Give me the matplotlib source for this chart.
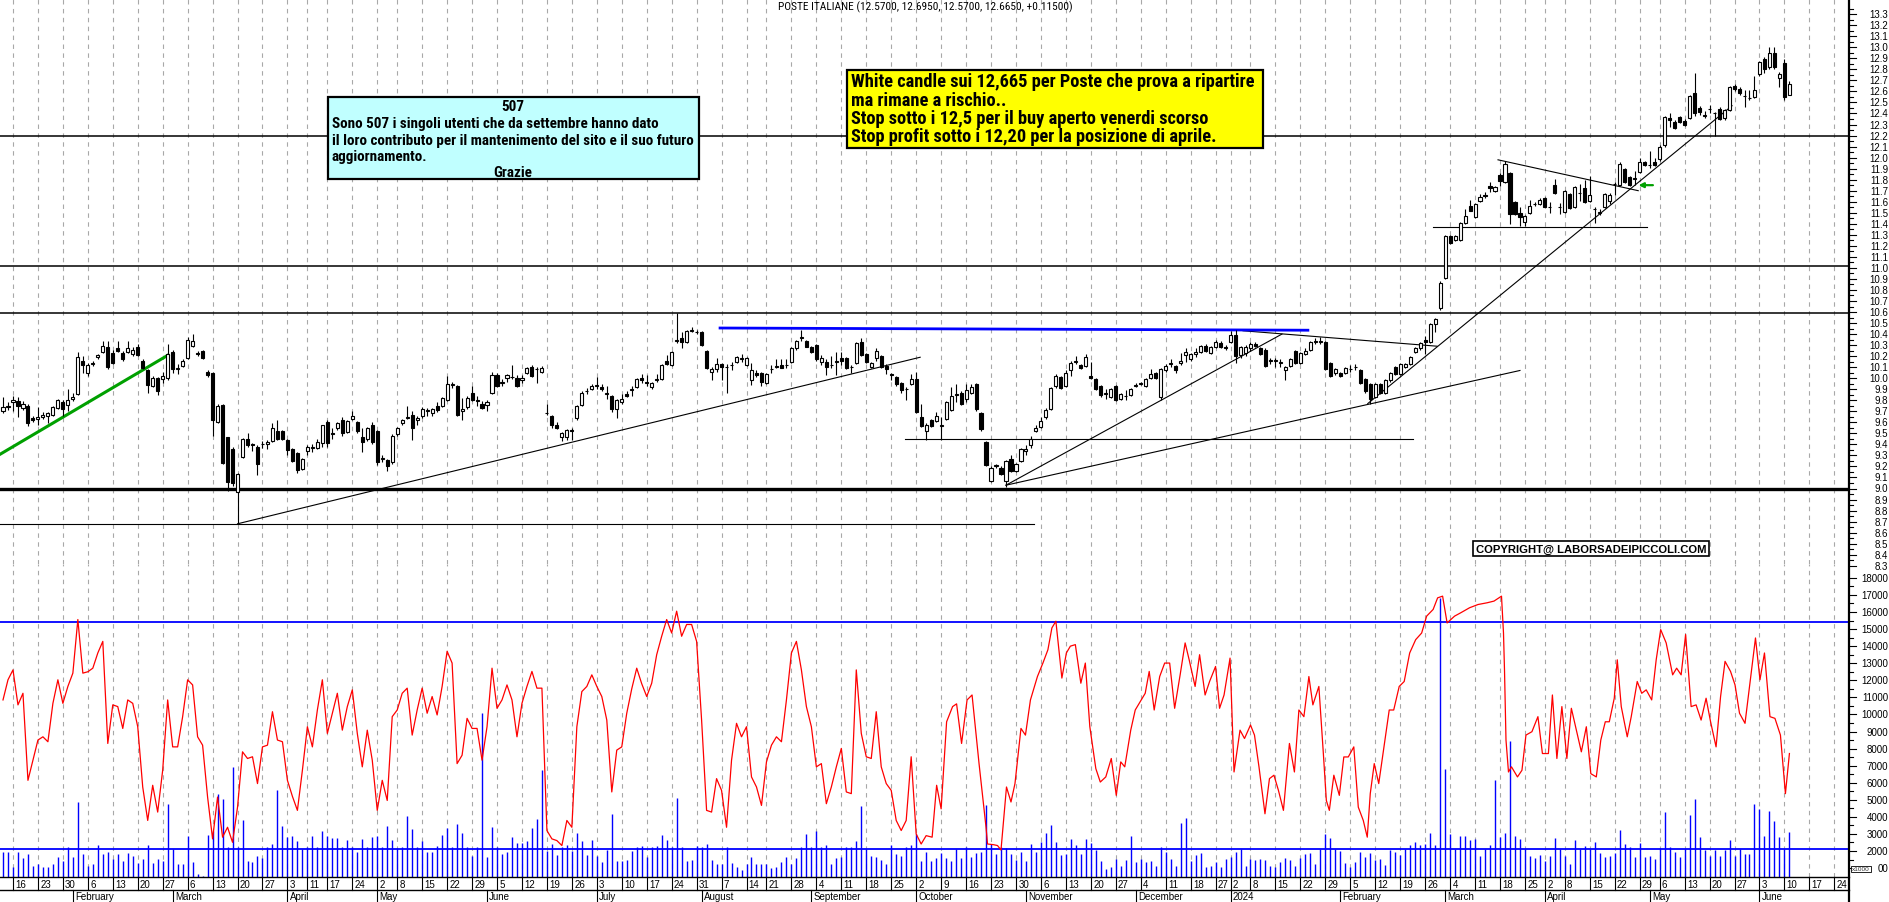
import numpy as np
import pandas as pd
import matplotlib
matplotlib.use("Agg")
import matplotlib.pyplot as plt
import matplotlib.transforms as mtrans
from matplotlib.collections import LineCollection
from matplotlib.patches import Rectangle
from matplotlib import font_manager as fm

# ---------------- data ----------------
holidays = ["2023-04-07", "2023-04-10", "2023-05-01", "2023-08-15", "2023-12-25",
            "2023-12-26", "2024-01-01", "2024-03-29", "2024-04-01", "2024-05-01"]
first_day = "2023-01-12"
axis_end_day = "2024-06-28"

opens = [9.70,9.74,9.78,9.79,9.73,9.75,9.64,9.63,9.65,9.66,9.67,9.73,9.78,9.76,9.81,9.86,10.16,10.05,10.13,10.19,
10.24,10.28,10.23,10.27,10.23,10.24,10.22,10.28,10.16,10.07,9.93,10.00,9.99,10.00,10.24,10.08,10.11,10.18,10.29,10.23,
10.25,10.06,10.05,9.60,9.76,9.47,9.36,8.97,9.29,9.45,9.40,9.38,9.40,9.40,9.43,9.52,9.52,9.44,9.36,9.32,
9.18,9.34,9.37,9.37,9.41,9.60,9.50,9.55,9.62,9.51,9.63,9.60,9.47,9.45,9.58,9.52,9.27,9.26,9.24,9.49,
9.59,9.64,9.67,9.62,9.66,9.70,9.68,9.75,9.75,9.80,9.94,9.93,9.70,9.74,9.87,9.80,9.77,9.76,9.87,10.03,
9.96,10.00,10.01,10.00,9.98,10.05,10.10,10.08,10.06,9.68,9.66,9.58,9.47,9.47,9.53,9.64,9.76,9.88,9.90,9.93,
9.92,9.86,9.84,9.72,9.78,9.86,9.89,9.92,10.00,9.97,9.92,9.98,9.99,10.16,10.12,10.34,10.36,10.33,10.43,10.42,
10.42,10.25,10.06,10.08,10.13,10.10,10.12,10.15,10.17,10.12,9.98,10.05,10.05,9.96,10.08,10.10,10.12,10.12,10.15,10.27,
10.36,10.34,10.28,10.30,10.15,10.15,10.12,10.15,10.18,10.18,10.10,10.14,10.33,10.22,10.10,10.18,10.20,10.11,10.04,10.01,
9.96,9.90,9.95,9.99,9.65,9.52,9.62,9.61,9.57,9.63,9.71,9.85,9.87,9.81,9.87,9.95,9.68,9.42,9.07,9.20,
9.19,9.07,9.27,9.16,9.25,9.34,9.39,9.52,9.56,9.65,9.72,9.93,10.01,9.93,10.07,10.15,10.12,10.11,10.02,9.99,
9.93,9.86,9.83,9.93,9.81,9.84,9.85,9.93,9.95,9.93,10.00,10.05,9.83,10.07,10.13,10.11,10.14,10.21,10.17,10.22,
10.24,10.29,10.23,10.28,10.32,10.28,10.33,10.39,10.21,10.23,10.27,10.31,10.27,10.26,10.16,10.16,10.14,10.07,10.11,10.25,
10.14,10.22,10.26,10.33,10.33,10.33,10.14,10.05,10.05,10.05,10.08,10.10,10.07,9.99,9.95,9.83,9.95,9.87,9.98,10.10,
10.04,10.10,10.13,10.24,10.27,10.35,10.33,10.49,10.64,10.91,11.29,11.25,11.25,11.41,11.56,11.46,11.61,11.66,11.74,11.70,
11.84,11.78,11.86,11.60,11.50,11.42,11.50,11.58,11.58,11.63,11.55,11.75,11.55,11.51,11.67,11.55,11.68,11.72,11.61,11.53,
11.50,11.55,11.61,11.76,11.75,11.90,11.82,11.81,11.87,11.96,11.93,11.96,11.99,12.11,12.36,12.32,12.37,12.33,12.36,12.59,
12.45,12.38,12.44,12.40,12.44,12.36,12.43,12.65,12.62,12.56,12.54,12.55,12.76,12.89,12.82,12.95,12.72,12.86,12.57]

highs = [9.83,9.78,9.84,9.83,9.79,9.77,9.66,9.74,9.69,9.69,9.75,9.81,9.80,9.90,9.87,10.24,10.20,10.14,10.16,10.22,
10.34,10.34,10.26,10.34,10.25,10.34,10.28,10.31,10.17,10.08,10.02,10.01,10.06,10.31,10.26,10.13,10.17,10.37,10.40,10.25,
10.26,10.07,10.06,9.77,9.77,9.47,9.38,9.14,9.46,9.50,9.41,9.39,9.43,9.44,9.59,9.62,9.53,9.45,9.37,9.33,
9.28,9.39,9.40,9.45,9.58,9.62,9.55,9.60,9.65,9.62,9.70,9.61,9.55,9.56,9.60,9.53,9.30,9.27,9.49,9.56,
9.63,9.75,9.70,9.66,9.74,9.73,9.73,9.78,9.83,10.02,9.97,9.94,9.82,9.84,9.93,9.84,9.79,9.80,10.06,10.05,
9.99,10.04,10.12,10.03,10.03,10.10,10.12,10.10,10.11,9.77,9.67,9.60,9.51,9.54,9.55,9.76,9.88,9.91,9.95,10.01,
9.95,9.93,9.85,9.81,9.86,9.88,9.93,10.00,10.04,10.03,9.97,10.04,10.13,10.21,10.25,10.59,10.42,10.44,10.46,10.44,
10.43,10.26,10.10,10.18,10.14,10.13,10.15,10.20,10.22,10.19,10.14,10.07,10.06,10.05,10.12,10.17,10.17,10.17,10.28,10.35,
10.44,10.35,10.29,10.31,10.21,10.17,10.20,10.24,10.24,10.19,10.12,10.33,10.36,10.23,10.15,10.27,10.21,10.13,10.05,10.02,
9.97,9.92,10.04,10.06,9.77,9.59,9.63,9.69,9.65,9.79,9.92,9.95,9.88,9.95,9.95,9.96,9.69,9.43,9.20,9.22,
9.20,9.26,9.30,9.23,9.37,9.39,9.48,9.58,9.65,9.73,9.92,10.04,10.02,10.07,10.16,10.20,10.13,10.22,10.15,10.00,
9.94,9.90,9.91,9.94,9.87,9.89,9.91,9.96,9.97,10.00,10.08,10.06,10.09,10.13,10.17,10.12,10.23,10.27,10.23,10.27,
10.30,10.31,10.29,10.35,10.34,10.30,10.43,10.44,10.29,10.30,10.33,10.33,10.28,10.27,10.18,10.18,10.17,10.11,10.18,10.26,
10.24,10.27,10.34,10.36,10.37,10.34,10.15,10.09,10.06,10.10,10.12,10.13,10.08,10.00,9.96,9.96,9.96,9.99,10.06,10.11,
10.14,10.14,10.20,10.28,10.33,10.38,10.50,10.55,10.88,11.30,11.30,11.30,11.42,11.53,11.62,11.59,11.67,11.69,11.78,11.74,
11.86,11.97,11.87,11.61,11.55,11.48,11.62,11.60,11.63,11.64,11.60,11.81,11.59,11.71,11.68,11.74,11.76,11.80,11.83,11.55,
11.53,11.68,11.68,11.78,11.96,11.91,11.83,11.88,12.00,11.97,12.06,12.00,12.11,12.38,12.40,12.34,12.38,12.35,12.57,12.77,
12.47,12.42,12.48,12.41,12.46,12.44,12.65,12.67,12.64,12.61,12.61,12.74,12.88,12.91,13.00,13.00,12.78,12.89,12.695]

lows = [9.68,9.71,9.70,9.65,9.71,9.57,9.60,9.58,9.63,9.59,9.66,9.72,9.66,9.70,9.79,9.85,10.05,10.02,10.11,10.17,
10.23,10.08,10.13,10.24,10.16,10.23,10.20,10.20,10.08,9.87,9.92,9.85,9.96,9.98,10.05,10.04,10.10,10.17,10.28,10.20,
10.17,10.01,9.48,9.59,9.22,8.98,9.02,8.68,9.28,9.38,9.34,9.12,9.37,9.36,9.42,9.44,9.44,9.30,9.24,9.14,
9.17,9.30,9.33,9.36,9.38,9.38,9.45,9.53,9.48,9.50,9.62,9.50,9.33,9.43,9.40,9.21,9.24,9.16,9.22,9.48,
9.58,9.63,9.44,9.58,9.64,9.66,9.66,9.69,9.74,9.79,9.91,9.66,9.62,9.72,9.79,9.75,9.72,9.70,9.86,9.92,
9.93,9.97,9.99,9.92,9.96,10.04,10.01,9.96,10.05,9.67,9.55,9.54,9.43,9.44,9.44,9.62,9.75,9.86,9.89,9.90,
9.88,9.81,9.69,9.64,9.77,9.83,9.84,9.91,9.96,9.93,9.90,9.97,9.98,10.12,10.11,10.32,10.27,10.32,10.42,10.40,
10.29,10.08,9.98,10.06,9.98,9.87,10.07,10.14,10.15,10.11,9.94,10.01,9.93,9.95,10.05,10.09,10.09,10.09,10.14,10.26,
10.34,10.28,10.23,10.16,10.12,10.03,10.09,10.03,10.12,10.08,10.05,10.13,10.20,10.14,10.09,10.16,10.09,10.04,9.98,9.93,
9.87,9.80,9.94,9.68,9.56,9.44,9.56,9.60,9.44,9.62,9.70,9.78,9.76,9.78,9.86,9.70,9.52,9.20,9.06,9.19,
9.12,9.01,9.15,9.15,9.24,9.30,9.37,9.51,9.55,9.63,9.71,9.91,9.90,9.92,10.02,10.13,10.08,10.10,9.99,9.89,
9.83,9.81,9.82,9.79,9.80,9.80,9.84,9.92,9.94,9.92,9.99,9.99,9.80,10.06,10.10,10.05,10.12,10.15,10.16,10.19,
10.23,10.24,10.22,10.27,10.27,10.26,10.32,10.14,10.18,10.20,10.25,10.28,10.21,10.10,10.13,10.10,10.10,9.98,10.10,10.13,
10.13,10.21,10.25,10.31,10.31,10.07,10.01,10.03,10.01,10.04,10.06,10.07,9.95,9.87,9.77,9.82,9.86,9.86,9.97,10.03,
10.03,10.09,10.12,10.23,10.26,10.22,10.32,10.42,10.62,10.90,11.22,11.24,11.24,11.40,11.52,11.45,11.60,11.63,11.69,11.69,
11.74,11.77,11.40,11.48,11.38,11.38,11.49,11.56,11.57,11.55,11.50,11.67,11.49,11.50,11.53,11.54,11.61,11.59,11.60,11.41,
11.48,11.54,11.58,11.66,11.74,11.77,11.74,11.75,11.86,11.92,11.91,11.92,11.97,12.10,12.28,12.26,12.31,12.29,12.35,12.38,
12.39,12.36,12.40,12.20,12.34,12.34,12.42,12.60,12.57,12.46,12.52,12.54,12.74,12.77,12.80,12.80,12.64,12.52,12.57]

closes = [9.74,9.75,9.80,9.75,9.77,9.59,9.62,9.65,9.67,9.68,9.74,9.80,9.72,9.80,9.83,10.19,10.12,10.12,10.14,10.21,
10.29,10.10,10.14,10.25,10.17,10.27,10.26,10.21,10.09,9.94,10.00,9.88,10.02,10.22,10.08,10.09,10.16,10.35,10.34,10.22,
10.18,10.03,9.62,9.75,9.23,9.06,9.05,9.13,9.45,9.39,9.39,9.22,9.40,9.42,9.55,9.45,9.45,9.35,9.25,9.17,
9.27,9.38,9.37,9.42,9.58,9.41,9.49,9.59,9.50,9.61,9.66,9.52,9.42,9.55,9.42,9.24,9.27,9.20,9.48,9.55,
9.62,9.65,9.55,9.64,9.72,9.71,9.72,9.71,9.82,9.95,9.94,9.67,9.72,9.82,9.80,9.79,9.73,9.78,10.03,9.93,
9.97,10.03,10.01,9.93,10.00,10.09,10.02,10.08,10.09,9.68,9.58,9.55,9.50,9.53,9.52,9.75,9.87,9.88,9.93,9.94,
9.90,9.86,9.72,9.80,9.81,9.84,9.90,9.99,9.98,9.96,9.96,9.99,10.12,10.13,10.24,10.35,10.33,10.43,10.44,10.42,
10.30,10.09,10.08,10.13,10.10,10.10,10.12,10.19,10.18,10.18,10.07,10.03,9.97,10.04,10.08,10.11,10.09,10.12,10.27,10.34,
10.37,10.28,10.24,10.17,10.18,10.10,10.12,10.15,10.16,10.09,10.10,10.32,10.21,10.15,10.14,10.25,10.10,10.08,10.03,9.95,
9.89,9.90,9.99,9.69,9.57,9.58,9.57,9.66,9.57,9.78,9.84,9.85,9.77,9.89,9.92,9.72,9.54,9.21,9.19,9.21,
9.13,9.25,9.16,9.22,9.36,9.36,9.45,9.55,9.61,9.71,9.91,10.02,9.91,10.05,10.14,10.15,10.09,10.19,10.00,9.90,
9.85,9.86,9.90,9.80,9.86,9.84,9.90,9.94,9.95,9.99,10.04,10.00,10.08,10.11,10.14,10.07,10.16,10.24,10.22,10.24,
10.29,10.25,10.28,10.33,10.28,10.27,10.39,10.20,10.28,10.28,10.31,10.29,10.22,10.11,10.16,10.16,10.14,10.10,10.17,10.14,
10.23,10.25,10.33,10.33,10.33,10.08,10.02,10.08,10.02,10.09,10.08,10.10,9.96,9.88,9.81,9.95,9.87,9.98,10.05,10.04,
10.13,10.13,10.19,10.27,10.32,10.33,10.49,10.54,10.86,11.29,11.23,11.29,11.41,11.47,11.52,11.58,11.64,11.65,11.72,11.73,
11.79,11.94,11.49,11.49,11.46,11.47,11.56,11.58,11.62,11.55,11.55,11.68,11.55,11.70,11.54,11.73,11.68,11.60,11.66,11.53,
11.50,11.67,11.66,11.76,11.94,11.78,11.75,11.81,11.96,11.93,11.93,11.93,12.10,12.37,12.34,12.27,12.32,12.30,12.56,12.40,
12.41,12.38,12.44,12.40,12.35,12.43,12.64,12.62,12.59,12.56,12.54,12.61,12.87,12.80,12.95,12.82,12.76,12.55,12.665]

volumes = [1920,1920,1040,1920,1590,1830,1140,1240,1040,1080,1240,1630,1430,2260,1630,4870,1830,1140,1240,2360,
1830,1960,1530,1830,1430,1880,1730,1280,1530,2360,1280,1530,1390,4770,2100,1240,1240,2900,1370,650,
550,2940,3200,5320,5060,2220,6930,2220,3830,1390,1370,1730,1590,2220,2410,5550,3490,2810,2850,2570,
2120,2220,2900,2220,3200,2900,2770,2770,2220,2650,2220,1960,2710,2220,2810,2850,2220,3490,2650,2180,
2220,4060,3300,2220,2610,1960,1920,2300,2940,3360,2220,3590,3080,2220,1730,2220,10100,1630,3430,2260,
1830,1920,2810,2490,2470,2570,3320,3890,6730,1980,2410,1790,2220,2370,1980,3040,2610,1790,2650,1710,
1330,2060,4140,1390,1430,1470,1980,2220,2280,1630,2220,2300,2940,2670,2220,5120,2220,1390,1470,2320,
2220,2410,1470,1240,1240,2260,1280,1040,880,1240,1670,1240,1240,1240,1000,1040,1330,1630,1240,1590,
2220,3000,2220,3200,2220,2360,1240,1590,1630,2220,2220,2570,4610,2120,1730,1630,1470,1240,2370,1830,
1730,2220,2370,3000,1390,1920,1390,
1590,1880,1590,1430,2120,1590,2220,1630,1880,1960,
4670,2410,1830,2220,2180,1830,1470,1920,1430,2410,
1920,2510,3060,3530,2510,1770,1830,2710,2360,1830,
2710,2470,2080,1430,940,1040,1530,1140,1470,2900,
1330,1530,1330,1390,1100,2220,1920,1530,1140,3630,
3940,1390,1790,1860,1040,1140,1330,1040,1530,1630,
1920,2120,1140,1530,1470,1530,1470,1140,1040,1330,
1590,1470,1140,1590,1830,1880,1240,2120,3000,2770,
2120,2020,1280,1080,1330,1920,1670,1860,1470,1530,
1200,2080,1920,1790,2120,2360,2510,2370,2410,3040,
2370,16830,6830,3000,2120,2870,2870,2650,2710,1730,
2120,2360,6180,2810,3040,8460,2870,2710,2120,1730,
1590,1790,1430,1730,2770,2120,1730,1240,2650,2120,
2320,2120,2550,1860,1630,1730,1880,3240,2410,2220,
1630,2470,1670,1730,1530,2180,4280,2220,1920,1630,
2120,4080,5060,2810,2060,1730,2060,1730,2060,2670,
1730,2120,1830,1830,4770,4470,2870,4320,3730,2810,
2120,3140]

osc_day = list(range(0, 186)) + [
186.2,187.1,188.0,189.1,190.3,191.1,192.1,193.2,194.2,195.6,197.0,197.3,198.5,199.3,200.0,201.1,202.0,202.8,204.0,204.9,
205.9,207.3,208.4,209.4,210.2,211.0,212.2,213.1,213.9,214.9,216.0,216.9,217.8,219.0,219.9,221.0,222.1,223.1,224.0,224.8,
226.0,226.9,228.1,228.9,229.7,230.7,231.8,232.8,233.8,234.8,235.9,236.9,237.7,238.9,239.8,240.9,241.8,243.0,243.8,244.7,
245.9,246.7,247.9,248.8,250.0,250.8,251.7,252.9,253.8,254.7,255.6,256.6,257.8,258.8,259.7,260.7,261.7,262.5,263.7,264.6,
265.2,265.8,266.7,267.8,268.7,269.6,270.7,271.6,272.6,273.4,274.0,274.8,275.7,276.9,277.8,278.7,279.8,280.8,281.9,283.1,
284.3,285.3,286.6,287.5,288.5,289.4,290.9,292.1,293.9,295.6,297.4,298.8,300.3,300.7,300.9,301.2,301.7,302.3,303.5,304.4,
305.2,306.4,307.6,308.5,309.7,310.5,311.4,312.4,313.4,314.3,315.3,316.3,317.3,318.2,319.3,320.2,321.1,321.9,322.9,323.5,
324.3,325.5,326.3,327.5,328.4,329.3,330.4,331.3,332.2,333.3,334.6,335.4,336.3,337.2,338.3,339.3,340.3,341.3,342.2,343.3,
344.2,345.1,346.2,347.1,348.0,349.1,350.0,351.2,352.1,353.0,354.1,355.1,356.2,357.2,358.0]
osc_val = [10850,12030,12610,10560,11240,6140,7320,8500,8690,8400,10650,12030,10650,11640,12420,15560,12420,12500,12710,13600,
14280,8300,10560,10460,9180,10850,10650,9280,5750,3790,5850,4280,6730,10850,8100,8100,9870,12030,11730,8690,
8200,5160,2710,5160,2810,3390,2510,4570,7810,7420,7520,5950,8100,8200,10160,8500,8400,6140,5200,4380,
6730,9280,8100,10260,12030,8890,10070,11240,9080,10460,11440,8890,6930,9080,7320,4380,6140,4960,9870,10260,
11240,11540,8790,10260,11540,10070,11050,9970,11640,13700,13010,7120,7610,9770,9180,9180,7320,9280,12710,10360,
10850,11730,10850,8690,10650,11640,12520,11540,11540,3200,2710,2610,2320,3790,3390,9280,11340,11640,12320,11640,
11050,9670,5460,7910,8100,10070,11500,12710,11800,11050,11830,13500,14580,15560,14770,16050,14580,15270,15270,14280,
9670,4380,4280,6240,5550,3390,7320,9480,8690,9280,6340,5750,4670,7220,8200,8690,8400,10850,13600,14280,
12610,10460,9280,6930,7120,4770,5750,6930,8010,5460,5360,12610,8890,7520,7420,10160,6930,5950,5550,3790,
3200,3790,7520,3000,2410,2900,
2810,5850,4470,9570,10460,10620,8300,10850,11140,7120,3390,2410,2370,2320,2060,5750,4870,5950,9180,8790,
10850,12220,13010,13790,15070,15460,12130,13600,14000,14090,11830,13010,9280,6830,6040,6340,7420,5260,7220,6930,
9080,10260,10850,11240,12520,10260,12220,13010,13010,10360,12320,14190,13210,11640,13500,11140,11930,12810,10360,11140,
13300,6630,9080,8590,9380,8790,6930,4180,6240,6440,5550,4380,8300,6630,10260,9870,12220,10560,11640,7710,
4960,4380,6440,5260,7510,7510,8100,4570,3790,2810,5360,7120,5950,8400,10260,10260,11640,11930,13600,14380,
14770,15760,16150,16830,16930,15360,15760,15950,16250,16440,16540,16640,16930,14770,12620,8500,6630,6930,6340,6730,
8790,8990,9870,7710,7710,11140,7420,10460,7420,10360,9080,7810,9280,6530,6340,8500,9570,9570,10950,13200,
10460,8690,9870,11930,11240,11440,10850,13200,14970,14190,12320,12710,12320,14680,10460,10560,9670,10950,9570,8100,
11040,13110,12520,11730,10070,9480,11640,14480,12030,13600,9870,9770,8790,5360,7710]

# reference levels / drawn lines (trading-day index, price)
h_levels_full = [12.20, 11.02, 10.59]
support_level = 9.00
blue_line = [(143.7, 10.455), (261.5, 10.435)]
green_line = [(-0.6, 9.31), (33.1, 10.21)]
trend_lines = [
    [(47, 8.68), (183.8, 10.19)],
    [(-0.6, 8.68), (206.6, 8.68)],
    [(180.8, 9.45), (282.5, 9.45)],
    [(201, 9.03), (256.3, 10.40)],
    [(201, 9.03), (304.0, 10.07)],
    [(248.5, 10.43), (287.4, 10.29)],
    [(273.5, 9.77), (346.5, 12.47)],
    [(299.6, 11.98), (327.7, 11.70)],
    [(286.6, 11.37), (329.5, 11.37)],
]
green_arrow = (328.0, 11.75)
osc_levels = [15400, 2100]

title = "POSTE ITALIANE (12.5700, 12.6950, 12.5700, 12.6650, +0.11500)"
cyan_lines = ["Sono 507 i singoli utenti che da settembre hanno dato",
              "il loro contributo per il mantenimento del sito e il suo futuro",
              "aggiornamento."]
yellow_lines = ["White candle sui 12,665 per Poste che prova a ripartire",
                "ma rimane a rischio..",
                "Stop sotto i 12,5 per il buy aperto venerdi scorso",
                "Stop profit sotto i 12,20 per la posizione di aprile."]
copyright_text = "COPYRIGHT@ LABORSADEIPICCOLI.COM"
month_names = ["January", "February", "March", "April", "May", "June", "July",
               "August", "September", "October", "November", "December"]

# ---------------- fonts ----------------
names = {f.name for f in fm.fontManager.ttflist}
SANS = "Liberation Sans" if "Liberation Sans" in names else "DejaVu Sans"
plt.rcParams["font.family"] = [SANS, "DejaVu Sans"]


def _wnum(w):
    if isinstance(w, (int, float)):
        return w
    return {"bold": 700, "heavy": 800, "black": 900, "semibold": 600, "demibold": 600,
            "normal": 400, "regular": 400, "medium": 500, "light": 300}.get(str(w).lower(), 400)


def find_condensed(bold):
    best = None
    for f in fm.fontManager.ttflist:
        nm = f.name
        cond = ("Narrow" in nm) or ("Condensed" in nm) or ("condensed" in str(f.stretch)) \
            or ("Narrow" in f.fname) or ("Condensed" in f.fname)
        if not cond:
            continue
        if str(f.style) != "normal":
            continue
        isbold = _wnum(f.weight) >= 600
        if isbold != bold:
            continue
        score = 0 if "Liberation" in nm else (1 if "Arial" in nm else (2 if "Roboto" in nm else 3))
        if best is None or score < best[0]:
            best = (score, f.fname)
    return best[1] if best else None


cb = find_condensed(True)
cr = find_condensed(False)
FP_BOLD = fm.FontProperties(fname=cb) if cb else fm.FontProperties(family=SANS, weight="bold")
FP_REG = fm.FontProperties(fname=cr) if cr else fm.FontProperties(family=SANS)

# ---------------- layout ----------------
W, H = 1890, 903
fig = plt.figure(figsize=(W / 100, H / 100), dpi=100)
fig.patch.set_facecolor("white")


def fxp(px):
    return px / W


def fyp(py):
    return 1 - py / H


SPINE = 1849
P_TOP, P_BOT, V_BOT = 0, 565, 878
ax = fig.add_axes([0, fyp(P_BOT), fxp(SPINE), (P_BOT - P_TOP) / H])
axv = fig.add_axes([0, fyp(V_BOT), fxp(SPINE), (V_BOT - P_BOT) / H], sharex=ax)

PXD = 4.99
X0 = 3.0
ax.set_xlim((0 - X0) / PXD, (SPINE - X0) / PXD)
PPU = 110.3
ax.set_ylim(9.0 - (P_BOT - 489.5) / PPU, 9.0 + 489.5 / PPU)
VPP = 0.01707
axv.set_ylim(2000 - (V_BOT - 852) / VPP, 2000 + (852 - P_BOT) / VPP)

for a in (ax, axv):
    for s in a.spines.values():
        s.set_visible(False)
    a.set_xticks([])
    a.set_yticks([])
    a.patch.set_alpha(0)

cal = pd.bdate_range(first_day, axis_end_day)
cal = cal[~cal.isin(pd.to_datetime(holidays))]
n = len(closes)
idx = np.arange(n)

wk = (cal - pd.to_timedelta(cal.weekday, unit="D"))
week_first = []
seen = set()
for i, k in enumerate(wk):
    if k not in seen:
        seen.add(k)
        if i > 0:
            week_first.append(i)
month_first = []
for i in range(1, len(cal)):
    if cal[i].month != cal[i - 1].month:
        month_first.append(i)

for i in week_first:
    for a in (ax, axv):
        a.axvline(i, color="#a8a8a8", lw=0.8, ls=(0, (4, 4)), zorder=0)

# ---------------- price panel ----------------
for lv in h_levels_full:
    ax.axhline(lv, color="black", lw=1.1, zorder=2)
ax.axhline(support_level, color="black", lw=2.4, zorder=2)
for seg in trend_lines:
    (x1, y1), (x2, y2) = seg
    ax.plot([x1, x2], [y1, y2], color="black", lw=0.8, zorder=2)
ax.plot([p[0] for p in blue_line], [p[1] for p in blue_line], color="#0000ff", lw=2.0, zorder=2)
ax.plot([p[0] for p in green_line], [p[1] for p in green_line], color="#00a000", lw=2.2, zorder=2)
ax.annotate("", xy=(green_arrow[0] - 0.8, green_arrow[1]), xytext=(green_arrow[0] + 3.2, green_arrow[1]),
            arrowprops=dict(arrowstyle="-|>", color="#00a000", lw=1.6, mutation_scale=7), zorder=5)

wicks = [((i, lows[i]), (i, highs[i])) for i in range(n)]
ax.add_collection(LineCollection(wicks, colors="black", linewidths=0.8, zorder=3))
BW = 0.62
for i in range(n):
    o, c = opens[i], closes[i]
    bot = min(o, c)
    ht = max(abs(c - o), 0.003)
    fc = "white" if c >= o else "black"
    ax.add_patch(Rectangle((i - BW / 2, bot), BW, ht, facecolor=fc, edgecolor="black",
                           linewidth=0.8, zorder=4))

renderer = fig.canvas.get_renderer()


def fit_width(texts, target_px, ref_text):
    w = ref_text.get_window_extent(renderer).width
    s = ref_text.get_fontsize() * target_px / w
    for t in texts:
        t.set_fontsize(s)


# cyan note
ax.add_patch(Rectangle((fxp(328), fyp(180)), fxp(699) - fxp(328), fyp(98) - fyp(180),
                       transform=fig.transFigure, facecolor="#c0ffff", edgecolor="black",
                       lw=1.6, zorder=6))
cy = []
cy.append(fig.text(fxp(513), fyp(107), "507", ha="center", va="center", fontsize=10,
                   fontproperties=FP_BOLD, zorder=7))
for k, t in enumerate(cyan_lines):
    cy.append(fig.text(fxp(332), fyp(124 + 16.5 * k), t, ha="left", va="center",
                       fontproperties=FP_BOLD, zorder=7))
cy.append(fig.text(fxp(513), fyp(173), "Grazie", ha="center", va="center",
                   fontproperties=FP_BOLD, zorder=7))
for t in cy:
    t.set_fontsize(10)
fit_width(cy, 363, cy[2])

# yellow note
ax.add_patch(Rectangle((fxp(847), fyp(149)), fxp(1263) - fxp(847), fyp(71) - fyp(149),
                       transform=fig.transFigure, facecolor="#ffff00", edgecolor="black",
                       lw=1.6, zorder=6))
yl = []
for k, t in enumerate(yellow_lines):
    yl.append(fig.text(fxp(851), fyp(82 + 18.5 * k), t, ha="left", va="center",
                       fontproperties=FP_BOLD, zorder=7))
for t in yl:
    t.set_fontsize(12)
fit_width(yl, 407, yl[0])

cp = fig.text(fxp(1591), fyp(549.5), copyright_text, ha="center", va="center",
              fontweight="bold", zorder=7, fontsize=8,
              bbox=dict(boxstyle="square,pad=0.25", fc="white", ec="black", lw=1.2))
fit_width([cp], 232, cp)

tt = fig.text(fxp(925), fyp(7), title, ha="center", va="center", fontproperties=FP_REG)
tt.set_fontsize(7)
fit_width([tt], 296, tt)

# ---------------- lower panel ----------------
vbot = axv.get_ylim()[0]
axv.vlines(idx, vbot, volumes[:n], colors="#0000ff", lw=1.0, zorder=2)
for lv in osc_levels:
    axv.axhline(lv, color="#0000ff", lw=1.3, zorder=3)
m = min(len(osc_day), len(osc_val))
axv.plot(osc_day[:m], osc_val[:m], color="#ff0000", lw=0.9, zorder=4)

# ---------------- right axis ----------------
tp = mtrans.blended_transform_factory(fig.transFigure, ax.transData)
tv = mtrans.blended_transform_factory(fig.transFigure, axv.transData)
for k in range(83, 134):
    v = k / 10
    ax.plot([fxp(SPINE), fxp(SPINE + 7)], [v, v], transform=tp, color="black", lw=0.8, clip_on=False)
    ax.plot([fxp(SPINE), fxp(SPINE + 4)], [v + 0.05, v + 0.05], transform=tp, color="black", lw=0.8, clip_on=False)
    fig.text(fxp(1888), v, "%.1f" % v, transform=tp, ha="right", va="center", fontsize=7)
for k in range(1, 19):
    v = k * 1000
    axv.plot([fxp(SPINE), fxp(SPINE + 7)], [v, v], transform=tv, color="black", lw=0.8, clip_on=False)
    if k < 18:
        axv.plot([fxp(SPINE), fxp(SPINE + 4)], [v + 500, v + 500], transform=tv, color="black", lw=0.8, clip_on=False)
    fig.text(fxp(1888), v, "%d" % v if k > 1 else "00", transform=tv, ha="right", va="center", fontsize=7)
fig.text(fxp(1852), fyp(870), "x1000", ha="left", va="center", fontsize=4.6, color="#333333", zorder=8,
         bbox=dict(boxstyle="square,pad=0.15", fc="white", ec="black", lw=0.6))

fig.add_artist(plt.Line2D([fxp(SPINE), fxp(SPINE)], [0, 1], transform=fig.transFigure, color="black", lw=1.6))

# ---------------- date band ----------------
bx = mtrans.blended_transform_factory(axv.transData, fig.transFigure)
fig.add_artist(plt.Line2D([0, fxp(SPINE)], [fyp(V_BOT), fyp(V_BOT)], transform=fig.transFigure, color="black", lw=1.0))
fig.add_artist(plt.Line2D([0, fxp(SPINE)], [fyp(891), fyp(891)], transform=fig.transFigure, color="black", lw=1.0))
for i in week_first:
    axv.plot([i, i], [fyp(V_BOT), fyp(891)], transform=bx, color="black", lw=0.8, clip_on=False)
    axv.text(i + 0.45, fyp(885), str(cal[i].day), transform=bx, ha="left", va="center", fontsize=7, clip_on=False)
for i in month_first:
    d = cal[i]
    label = str(d.year) if d.month == 1 else month_names[d.month - 1]
    axv.plot([i, i], [fyp(891), fyp(903)], transform=bx, color="black", lw=0.8, clip_on=False)
    axv.text(i + 0.45, fyp(897.5), label, transform=bx, ha="left", va="center", fontsize=7, clip_on=False)

fig.savefig("out.png", dpi=100)
